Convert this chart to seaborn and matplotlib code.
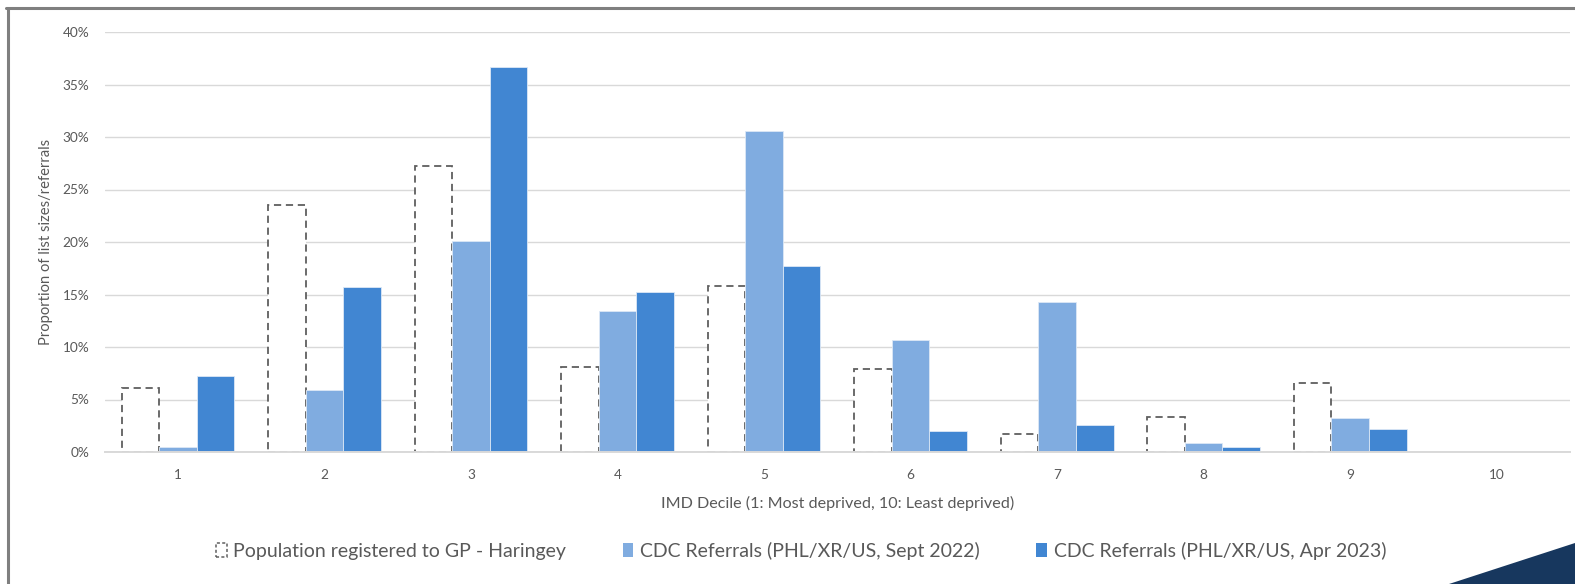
import matplotlib
matplotlib.use("Agg")
import matplotlib.pyplot as plt
import matplotlib.patches as mpatches
from matplotlib.ticker import PercentFormatter, MultipleLocator
import seaborn as sns
import pandas as pd

# IMD deciles and the share of list size / referrals in each
deciles = ["1", "2", "3", "4", "5", "6", "7", "8", "9", "10"]
population = [6.1, 23.5, 27.2, 8.1, 15.8, 7.9, 1.7, 3.3, 6.6, 0.0]
referrals_sep22 = [0.5, 5.9, 20.1, 13.4, 30.6, 10.7, 14.3, 0.9, 3.2, 0.0]
referrals_apr23 = [7.2, 15.7, 36.7, 15.2, 17.7, 2.0, 2.6, 0.5, 2.2, 0.0]

series_names = [
    "Population registered to GP - Haringey",
    "CDC Referrals (PHL/XR/US, Sept 2022)",
    "CDC Referrals (PHL/XR/US, Apr 2023)",
]
series_values = [population, referrals_sep22, referrals_apr23]
series_colors = ["#ffffff", "#80ace0", "#4186d2"]

rows = []
for name, vals in zip(series_names, series_values):
    for d, v in zip(deciles, vals):
        rows.append({"decile": d, "series": name, "share": v})
df = pd.DataFrame(rows)

sns.set_theme(style="white")
plt.rcParams["font.family"] = ["Lato", "DejaVu Sans"]

fig = plt.figure(figsize=(15.75, 5.84), dpi=100)
ax = fig.add_axes([104.7 / 1575, 1 - 452 / 584, (1570 - 104.7) / 1575, (452 - 32) / 584])

sns.barplot(
    data=df, x="decile", y="share", hue="series", order=deciles,
    hue_order=series_names, palette=series_colors, width=0.77, gap=0,
    saturation=1, errorbar=None, legend=False, ax=ax, zorder=3,
)

# population bars: white fill with a dashed grey outline
for bar in ax.containers[0]:
    bar.set_edgecolor("#5f5f5f" if bar.get_height() > 0 else "none")
    bar.set_linestyle((0, (4, 2.6)))
    bar.set_linewidth(1.3)
    bar.set_facecolor("#ffffff")
for cont in ax.containers[1:]:
    for bar in cont:
        bar.set_edgecolor("#dce8f6" if bar.get_height() > 0 else "none")
        bar.set_linewidth(0.6)

ax.set_ylim(0, 40)
ax.set_xlim(-0.5, 9.5)
ax.yaxis.set_major_locator(MultipleLocator(5))
ax.yaxis.set_major_formatter(PercentFormatter(decimals=0))
ax.grid(axis="y", color="#d9d9d9", linewidth=1.0, zorder=0)
ax.set_axisbelow(True)
for side in ["top", "right", "left"]:
    ax.spines[side].set_visible(False)
ax.spines["bottom"].set_color("#d9d9d9")
ax.spines["bottom"].set_linewidth(1.4)
ax.spines["bottom"].set_zorder(5)
ax.tick_params(axis="both", length=0, labelsize=9.8, colors="#595959")
ax.tick_params(axis="x", pad=12)
ax.tick_params(axis="y", pad=11)

ax.set_xlabel("IMD Decile (1: Most deprived, 10: Least deprived)", fontsize=11.6,
              color="#595959", labelpad=11)
ax.set_ylabel("Proportion of list sizes/referrals", fontsize=10.6,
              color="#595959", labelpad=7)

handles = [
    mpatches.Patch(facecolor="#ffffff", edgecolor="#5f5f5f", linestyle=(0, (2, 1.5)), linewidth=1.1),
    mpatches.Patch(facecolor=series_colors[1], edgecolor="none"),
    mpatches.Patch(facecolor=series_colors[2], edgecolor="none"),
]
fig.legend(
    handles, series_names, loc="center", bbox_to_anchor=(0.5086, 1 - 551 / 584),
    ncol=3, frameon=False, fontsize=14, handlelength=0.55, handleheight=0.7,
    handletextpad=0.35, columnspacing=2.9, labelcolor="#595959",
)

# outer frame (left and top) and corner accent
fig.add_artist(plt.Line2D([7.5 / 1575, 7.5 / 1575], [0, 1 - 8 / 584],
                          transform=fig.transFigure, color="#7f7f7f", linewidth=2.2))
fig.add_artist(plt.Line2D([6.4 / 1575, 1], [1 - 8 / 584, 1 - 8 / 584],
                          transform=fig.transFigure, color="#7f7f7f", linewidth=2.2))
fig.add_artist(mpatches.Polygon(
    [(1449 / 1575, 0), (1, 1 - 543 / 584), (1, 0)], closed=True,
    transform=fig.transFigure, facecolor="#17375e", edgecolor="none"))

fig.savefig("out.png", dpi=100, facecolor="white")
